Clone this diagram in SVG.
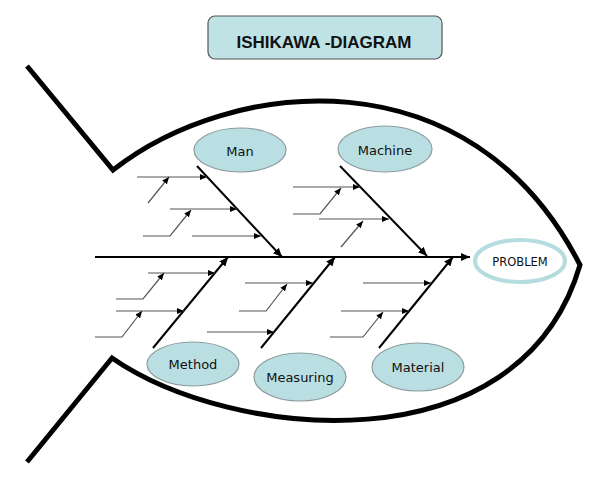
<svg xmlns="http://www.w3.org/2000/svg" width="597" height="480" viewBox="0 0 597 480">
<defs>
<marker id="ab" markerUnits="userSpaceOnUse" markerWidth="10" markerHeight="8" refX="9" refY="4" orient="auto"><path d="M0,0 L9,4 L0,8 Z" fill="#000"/></marker>
<marker id="as" markerUnits="userSpaceOnUse" markerWidth="7" markerHeight="6" refX="7" refY="3" orient="auto"><path d="M0,0 L7,3 L0,6 Z" fill="#000"/></marker>
<style>
.fish{fill:none;stroke:#000;stroke-width:5;stroke-linejoin:miter}
.bone{fill:none;stroke:#000;stroke-width:2;marker-end:url(#ab)}
.sub{fill:none;stroke:#555;stroke-width:1.2;marker-end:url(#as)}
.cause{fill:#b9dfe2;stroke:#8c9c9e;stroke-width:1.2}
.lbl{font-family:"DejaVu Sans",Verdana,sans-serif;font-size:13px;fill:#111;text-anchor:middle}
</style>
</defs>
<rect width="597" height="480" fill="#fff"/>
<g id="title">
<rect x="208" y="16" width="234" height="43" rx="7" fill="#bfe2e5" stroke="#555" stroke-width="1.2"/>
<text x="324" y="48" font-family="Liberation Sans, Arial, sans-serif" font-weight="bold" font-size="17" fill="#111" text-anchor="middle">ISHIKAWA -DIAGRAM</text>
</g>
<g id="fish">
<path class="fish" d="M27,66 L113,170 C230,78 470,50 580,265 C520,470 230,440 112,358 L27,462"/>
</g>
<g id="connectors">
<line class="bone" x1="95" y1="257" x2="470" y2="257"/>
<line class="bone" x1="197" y1="166" x2="282" y2="257"/>
<line class="bone" x1="340" y1="166" x2="427" y2="256"/>
<line class="bone" x1="153" y1="348" x2="228" y2="257"/>
<line class="bone" x1="261" y1="348" x2="335" y2="257"/>
<line class="bone" x1="379" y1="348" x2="453" y2="257"/>
<!-- Man -->
<line class="sub" x1="137" y1="177" x2="207" y2="177"/>
<line class="sub" x1="148" y1="203" x2="169" y2="177"/>
<line class="sub" x1="170" y1="209" x2="237" y2="209"/>
<polyline class="sub" points="143,236 170,236 191,210"/>
<line class="sub" x1="192" y1="236" x2="261" y2="236"/>
<!-- Machine -->
<line class="sub" x1="293" y1="187" x2="360" y2="187"/>
<polyline class="sub" points="293,214 320,214 341,188"/>
<line class="sub" x1="319" y1="219" x2="389" y2="219"/>
<line class="sub" x1="341" y1="247" x2="363" y2="221"/>
<!-- Method -->
<line class="sub" x1="148" y1="273" x2="215" y2="273"/>
<polyline class="sub" points="116,299 143,299 164,273"/>
<line class="sub" x1="116" y1="311" x2="184" y2="311"/>
<polyline class="sub" points="95,337 122,337 142,311"/>
<!-- Measuring -->
<line class="sub" x1="245" y1="283" x2="313" y2="283"/>
<polyline class="sub" points="239,311 266,311 287,284"/>
<line class="sub" x1="207" y1="332" x2="274" y2="332"/>
<!-- Material -->
<line class="sub" x1="363" y1="283" x2="431" y2="283"/>
<line class="sub" x1="341" y1="311" x2="409" y2="311"/>
<polyline class="sub" points="330,337 363,337 383,312"/>
</g>
<g id="man"><ellipse class="cause" cx="240" cy="150" rx="46" ry="22"/><text class="lbl" x="240" y="156">Man</text></g>
<g id="machine"><ellipse class="cause" cx="385" cy="149" rx="47" ry="23"/><text class="lbl" x="385" y="155">Machine</text></g>
<g id="method"><ellipse class="cause" cx="193" cy="364" rx="46" ry="22"/><text class="lbl" x="193" y="369">Method</text></g>
<g id="measuring"><ellipse class="cause" cx="300" cy="377" rx="46" ry="24"/><text class="lbl" x="300" y="382">Measuring</text></g>
<g id="material"><ellipse class="cause" cx="418" cy="367" rx="46" ry="24"/><text class="lbl" x="418" y="372">Material</text></g>
<g id="problem"><ellipse cx="520" cy="261" rx="45" ry="21" fill="#fff" stroke="#b5dcdf" stroke-width="4"/><text x="520" y="265.5" font-family="DejaVu Sans, Verdana, sans-serif" font-size="11.5" fill="#111" text-anchor="middle">PROBLEM</text></g>
</svg>
